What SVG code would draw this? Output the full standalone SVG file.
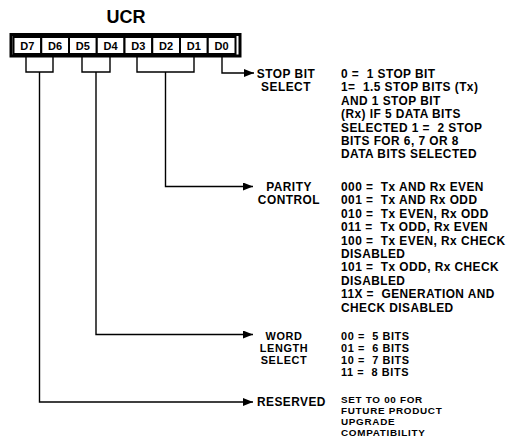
<svg xmlns="http://www.w3.org/2000/svg" width="516" height="438" viewBox="0 0 516 438">
<defs>
<style>
text{font-family:"Liberation Sans",Arial,sans-serif;font-weight:bold;fill:#000}
.t{font-size:18px}
.c{font-size:11px;text-anchor:middle}
.l{font-size:11.9px;letter-spacing:0.5px;text-anchor:middle}
.v{font-size:11.9px;letter-spacing:0.45px;white-space:pre}
.s{font-size:10.9px;letter-spacing:0.6px;white-space:pre}
.sl{font-size:10.9px;letter-spacing:0.6px;text-anchor:middle}
.r{font-size:9.9px;letter-spacing:0.7px;white-space:pre}
.w{fill:none;stroke:#000;stroke-width:1.4}
.cell{fill:#fff;stroke:#000;stroke-width:2}
</style>
<marker id="ah" viewBox="0 0 10 8" refX="10" refY="4" markerWidth="10" markerHeight="8" markerUnits="userSpaceOnUse" orient="auto">
<path d="M0,0 L10,4 L0,8 Z" fill="#000"/>
</marker>
</defs>
<rect width="516" height="438" fill="#fff"/>
<text class="t" x="126" y="23" text-anchor="middle">UCR</text>
<g id="register">
<rect x="11" y="34.5" width="229" height="21.5" fill="#fff" stroke="#000" stroke-width="3"/>
<rect class="cell" x="13.5" y="37" width="27.75" height="17"/>
<rect class="cell" x="41.25" y="37" width="27.75" height="17"/>
<rect class="cell" x="69" y="37" width="27.75" height="17"/>
<rect class="cell" x="96.75" y="37" width="27.75" height="17"/>
<rect class="cell" x="124.5" y="37" width="27.75" height="17"/>
<rect class="cell" x="152.25" y="37" width="27.75" height="17"/>
<rect class="cell" x="180" y="37" width="27.75" height="17"/>
<rect class="cell" x="207.75" y="37" width="27.75" height="17"/>
<text class="c" x="27.4" y="50">D7</text>
<text class="c" x="55.1" y="50">D6</text>
<text class="c" x="82.9" y="50">D5</text>
<text class="c" x="110.6" y="50">D4</text>
<text class="c" x="138.4" y="50">D3</text>
<text class="c" x="166.1" y="50">D2</text>
<text class="c" x="193.9" y="50">D1</text>
<text class="c" x="221.6" y="50">D0</text>
</g>
<g id="connectors">
<path class="w" d="M26,56 V72 H53 V56"/>
<path class="w" marker-end="url(#ah)" d="M39.5,72 V402 H253"/>
<path class="w" d="M82,56 V72 H110 V56"/>
<path class="w" marker-end="url(#ah)" d="M96,72 V334.5 H253"/>
<path class="w" d="M137,56 V72 H194 V56"/>
<path class="w" marker-end="url(#ah)" d="M165.5,72 V186.5 H253"/>
<path class="w" marker-end="url(#ah)" d="M222,56 V73 H254"/>
</g>
<g id="stop-bit">
<text class="l" x="286" y="78">STOP BIT</text>
<text class="l" x="286" y="91.4">SELECT</text>
<text class="v" x="341" y="78">0 =  1 STOP BIT</text>
<text class="v" x="341" y="91.4">1=  1.5 STOP BITS (Tx)</text>
<text class="v" x="341" y="104.8">AND 1 STOP BIT</text>
<text class="v" x="341" y="118.2">(Rx) IF 5 DATA BITS</text>
<text class="v" x="341" y="131.6">SELECTED 1 =  2 STOP</text>
<text class="v" x="341" y="145">BITS FOR 6, 7 OR 8</text>
<text class="v" x="341" y="158.4">DATA BITS SELECTED</text>
</g>
<g id="parity">
<text class="l" x="289" y="191">PARITY</text>
<text class="l" x="289" y="204.4">CONTROL</text>
<text class="v" x="341" y="191">000 =  Tx AND Rx EVEN</text>
<text class="v" x="341" y="204.4">001 =  Tx AND Rx ODD</text>
<text class="v" x="341" y="217.8">010 =  Tx EVEN, Rx ODD</text>
<text class="v" x="341" y="231.2">011 =  Tx ODD, Rx EVEN</text>
<text class="v" x="341" y="244.6">100 =  Tx EVEN, Rx CHECK</text>
<text class="v" x="341" y="258">DISABLED</text>
<text class="v" x="341" y="271.4">101 =  Tx ODD, Rx CHECK</text>
<text class="v" x="341" y="284.8">DISABLED</text>
<text class="v" x="341" y="298.2">11X =  GENERATION AND</text>
<text class="v" x="341" y="311.6">CHECK DISABLED</text>
</g>
<g id="word-length">
<text class="sl" x="284" y="339.5">WORD</text>
<text class="sl" x="284" y="351.8">LENGTH</text>
<text class="sl" x="284" y="364.1">SELECT</text>
<text class="s" x="341" y="339.5">00 =  5 BITS</text>
<text class="s" x="341" y="351.8">01 =  6 BITS</text>
<text class="s" x="341" y="364.1">10 =  7 BITS</text>
<text class="s" x="341" y="376.4">11 =  8 BITS</text>
</g>
<g id="reserved">
<text class="v" x="257" y="406">RESERVED</text>
<text class="r" x="341" y="403">SET TO 00 FOR</text>
<text class="r" x="341" y="414.1">FUTURE PRODUCT</text>
<text class="r" x="341" y="425.2">UPGRADE</text>
<text class="r" x="341" y="436.3">COMPATIBILITY</text>
</g>
</svg>
